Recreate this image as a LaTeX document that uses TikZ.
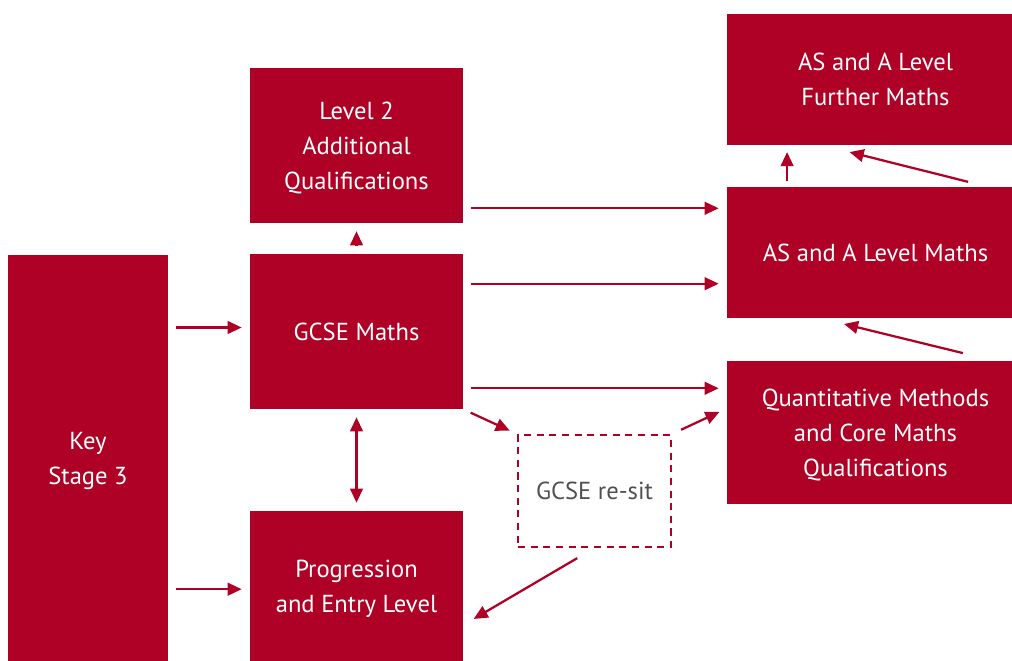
\documentclass[tikz,border=0pt]{standalone}
\usepackage{fontspec}
\setmainfont{PT Sans}
\usepackage{tikz}
\usetikzlibrary{arrows.meta, positioning}
\definecolor{crimson}{HTML}{AF0025}
\definecolor{resitgray}{HTML}{505050}

\begin{document}
\begin{tikzpicture}[x=0.025cm, y=-0.025cm,
        box/.style={fill=crimson, text=white, align=center, inner sep=0pt, text depth=0pt, font=\fontsize{17.5}{24.8}\selectfont},
        resitbox/.style={draw=crimson, dash pattern=on 5pt off 4pt, line width=1.4pt, text=resitgray, align=center, font=\fontsize{17.5}{24.8}\selectfont},
        edge/.style={-{Triangle[length=10pt, width=9pt]}, crimson, line width=1.6pt, shorten <=0.2cm, shorten >=0.2cm},
        dedge/.style={{Triangle[length=10pt, width=9pt]}-{Triangle[length=10pt, width=9pt]}, crimson, line width=1.6pt, shorten <=0.2cm, shorten >=0.2cm}
    ]
        \useasboundingbox (0,0) rectangle (1012,661);

        % Nodes
        \node[box, minimum width=4cm, minimum height=10.15cm] (ks3) at (88,458) {Key\\Stage 3};
        \node[box, minimum width=5.325cm, minimum height=3.875cm] (level2) at (356.5,145.5) {Level 2\\Additional\\Qualifications};
        \node[box, minimum width=5.325cm, minimum height=3.875cm] (gcse) at (356.5,331.5) {GCSE Maths};
        \node[box, minimum width=5.325cm, minimum height=3.75cm] (prog) at (356.5,586) {Progression\\and Entry Level};
        \node[box, minimum width=7.125cm, minimum height=3.275cm] (further) at (869.5,79.5) {\hspace*{0.3cm}AS and A Level\\\hspace*{0.3cm}Further Maths};
        \node[box, minimum width=7.125cm, minimum height=3.275cm] (as) at (869.5,252.5) {\hspace*{0.3cm}AS and A Level Maths};
        \node[box, minimum width=7.125cm, minimum height=3.575cm] (quant) at (869.5,432.5) {\hspace*{0.3cm}Quantitative Methods\\\hspace*{0.3cm}and Core Maths\\\hspace*{0.3cm}Qualifications};
        \node[resitbox, minimum width=3.825cm, minimum height=2.8cm] (resit) at (594.5,491) {GCSE re-sit};

        % Edges
        \draw[edge] ([yshift=0.1cm]ks3.east |- gcse.west) -- ([yshift=0.1cm]gcse.west);
        \draw[edge] ([yshift=-0.08cm]ks3.east |- prog.west) -- ([yshift=-0.08cm]prog.west);
        \draw[edge] (gcse.north) -- (level2.south);
        \draw[dedge] (gcse.south) -- (prog.north);
        \draw[edge] ([yshift=0.375cm]level2.south east) coordinate (l2out) -- (l2out -| as.west);
        \draw[edge] ([yshift=-0.75cm]gcse.north east) coordinate (gcseup) -- (gcseup -| as.west);
        \draw[edge] ([yshift=0.525cm]gcse.south east) coordinate (gcsedown) -- (gcsedown -| quant.west);
        \draw[edge] (gcse.south east) -- (resit.north west);
        \draw[edge, shorten <=0.25cm] (resit.north east) -- ([yshift=0.6cm]quant.west);
        \draw[edge, shorten <=0.5cm, shorten >=0.3cm] (resit.south) -- ([yshift=-0.975cm]prog.east);
        \draw[edge, shorten <=0.15cm, shorten >=0.17cm] ([xshift=-2.06cm]as.north) -- ([xshift=-2.06cm]further.south);
        \draw[edge, shorten <=0.5cm, shorten >=0.7cm] ([xshift=2.95cm]as.north) -- ([xshift=-1.175cm]further.south);
        \draw[edge, shorten <=0.8cm, shorten >=0.6cm] ([xshift=3.11cm]quant.north) -- ([xshift=-1.22cm]as.south);

    \end{tikzpicture}
\end{document}
